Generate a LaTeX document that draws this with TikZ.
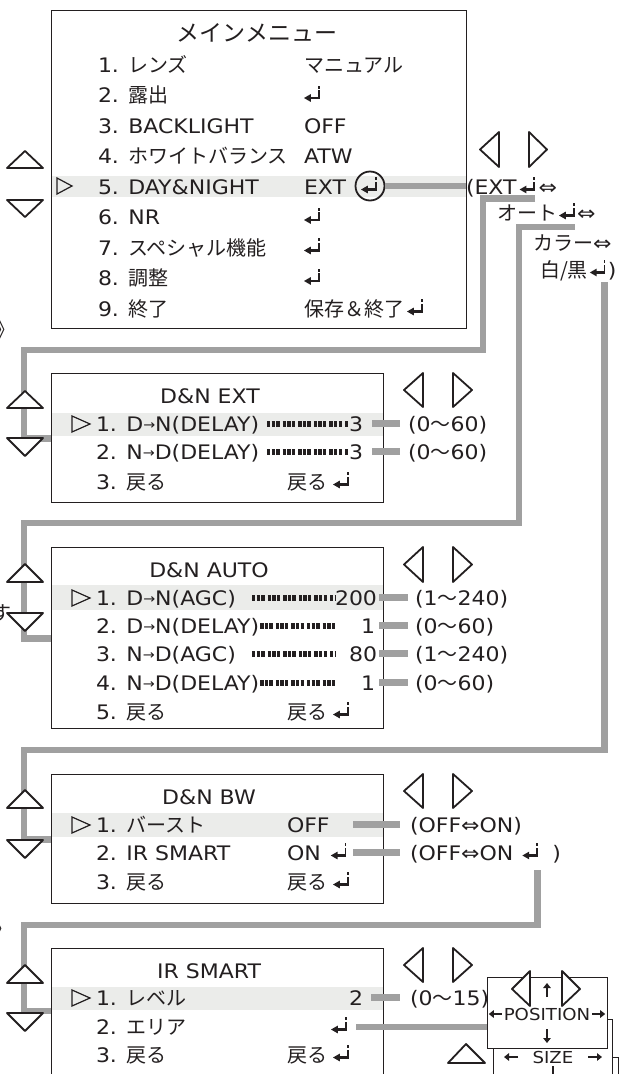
\documentclass[tikz,border=0pt]{standalone}
\usepackage{fontspec}
\setmainfont{DejaVu Sans}[FakeStretch=1.1]
\newfontfamily\jpf{Noto Sans CJK JP}
\usetikzlibrary{arrows.meta,calc}
\definecolor{ink}{HTML}{231F20}
\definecolor{lgray}{HTML}{A0A0A0}
\definecolor{hlc}{HTML}{EBECEA}
\newcommand\J[1]{{\jpf #1}}
\newcommand\fs{\fontsize{20}{22}\selectfont}
\newcommand\fsm{\fontsize{16.5}{18}\selectfont}
\newcommand\rarr{\raisebox{1.8pt}{\fontsize{13}{13}\selectfont →}}
\begin{document}
\begin{tikzpicture}[x=1pt,y=-1pt,
  txt/.style={anchor=base west, inner sep=0pt, outer sep=0pt, font=\fs, text=ink},
  txtr/.style={txt, anchor=base east},
  txtc/.style={txt, anchor=base},
  box/.style={draw=ink, line width=1.2pt, anchor=north west, inner sep=0pt},
  gl/.style={draw=lgray, line width=6.8pt, line join=miter},
  tri/.style={draw=ink, line width=1.8pt, fill=white, line join=round},
  ptr/.style={draw=ink, line width=1.2pt, line join=miter},
  bar/.style={draw=ink, line width=5.5pt, dash pattern=on 3.4pt off 1.2pt on 3.4pt off 1.2pt on 3.4pt off 3pt},
  tarr/.style={draw=ink, line width=2.6pt, -{Triangle[length=5pt,width=7.5pt]}},
  ret/.pic={
    \fill[ink] (0,0) -- (6.8,-3.9) -- (6.8,3.9) -- cycle;
    \fill[ink] (5.5,-1.15) rectangle (15.6,1.15);
    \fill[ink] (13.8,1.15) rectangle (15.6,-7.6);
    \fill[ink] (13.8,-9.4) rectangle (15.6,-12.2);
  }]
\useasboundingbox (0,0) rectangle (620,1074);
\fill[white] (0,0) rectangle (620,1074);

% highlight bands
\fill[hlc] (51,176) rectangle (466,197);
\fill[hlc] (51,413) rectangle (383,436);
\fill[hlc] (51,585) rectangle (383,610);
\fill[hlc] (51,813) rectangle (383,837);
\fill[hlc] (51,987) rectangle (383,1010);

% boxes
\node[box, minimum width=415, minimum height=318] (bmain) at (51,10) {};
\node[box, minimum width=332, minimum height=129] (bext) at (51,373) {};
\node[box, minimum width=332, minimum height=181] (bauto) at (51,547) {};
\node[box, minimum width=332, minimum height=129] (bbw) at (51,774) {};
\node[box, minimum width=332, minimum height=150] (bir) at (51,948) {};

% partial characters at left edge
\node[txt] (pc1) at (-5,337) {\J{》}};
\node[txtr] (pc2) at (11,620) {\J{す}};
\node[txt] (pc3) at (-7,936) {\J{》}};

% ---------- main menu ----------
\node[txtc, font=\fontsize{23}{25}\selectfont] (mtitle) at (257,41) {\J{メインメニュー}};
\node[txt] (m1) at (98,72) {1. \J{レンズ}};
\node[txt] (m2) at (98,102.5) {2. \J{露出}};
\node[txt] (m3) at (98,133) {3. BACKLIGHT};
\node[txt] (m4) at (98,163.5) {4. \J{ホワイトバランス}};
\node[txt] (m5) at (98,194) {5. DAY\&NIGHT};
\node[txt] (m6) at (98,224.5) {6. NR};
\node[txt] (m7) at (98,255) {7. \J{スペシャル機能}};
\node[txt] (m8) at (98,285.5) {8. \J{調整}};
\node[txt] (m9) at (98,316) {9. \J{終了}};
\node[txt] (v1) at (304,72) {\J{マニュアル}};
\pic at (304,98) {ret};
\node[txt] (v3) at (304,133) {OFF};
\node[txt] (v4) at (304,163.5) {ATW};
\node[txt] (v5) at (304,194) {EXT};
\node[circle, draw=ink, line width=1.8pt, minimum size=29pt, inner sep=0pt] (circ) at (370,186) {};
\pic at (361,189.5) {ret};
\pic at (304,220) {ret};
\pic at (304,250.5) {ret};
\pic at (304,281) {ret};
\node[txt] (v9) at (304,316) {\J{保存＆終了}};
\pic at ($(v9.base east)+(3,-4.5)$) {ret};
\draw[ptr] (57,178) -- (72,186) -- (57,194) -- cycle;

% cascade on the right
\node[txt] (c1) at (466,194) {(EXT};
\pic at ($(c1.base east)+(3,-4.5)$) {ret};
\node[txt] (c1b) at ($(c1.base east)+(22,0)$) {⇔};
\node[txt] (c2) at (497,220) {\J{オート}};
\pic at ($(c2.base east)+(2,-4.5)$) {ret};
\node[txt] (c2b) at ($(c2.base east)+(20,0)$) {⇔};
\node[txt] (c3) at (533,250) {\J{カラー}⇔};
\node[txt] (c4) at (540,277) {\J{白/黒}};
\pic at ($(c4.base east)+(2,-4.5)$) {ret};
\node[txt] (c4b) at ($(c4.base east)+(20,0)$) {)};
\coordinate (s1) at ($(c1.base east)+(18.6,4.5)$);
\coordinate (s2) at ($(c2.base east)+(17.6,7)$);
\coordinate (s3) at ($(c4.base east)+(16.7,5)$);

% ---------- D&N EXT ----------
\node[txtc] (et) at (210,403) {D\&N EXT};
\draw[ptr] (72,416) -- (90,424) -- (72,432) -- cycle;
\node[txt] (e1) at (96,431) {1. D\rarr N(DELAY)};
\node[txt] (e2) at (96,459) {2. N\rarr D(DELAY)};
\node[txt] (e3) at (96,489) {3. \J{戻る}};
\draw[bar] (267,424) -- (349,424);
\draw[bar] (267,452) -- (349,452);
\node[txtr] (e1v) at (363,431) {3};
\node[txtr] (e2v) at (363,459) {3};
\node[txt] (e3v) at (287,489) {\J{戻る}};
\pic at ($(e3v.base east)+(6,-4.5)$) {ret};
\node[txt] (e1r) at (408,431) {(0\J{～}60)};
\node[txt] (e2r) at (408,459) {(0\J{～}60)};

% ---------- D&N AUTO ----------
\node[txtc] (aut) at (209,577) {D\&N AUTO};
\draw[ptr] (72,590) -- (90,598) -- (72,606) -- cycle;
\node[txt] (a1) at (96,605) {1. D\rarr N(AGC)};
\node[txt] (a2) at (96,633) {2. D\rarr N(DELAY)};
\node[txt] (a3) at (96,661) {3. N\rarr D(AGC)};
\node[txt] (a4) at (96,690) {4. N\rarr D(DELAY)};
\node[txt] (a5) at (96,719) {5. \J{戻る}};
\draw[bar] (252,598) -- (335,598);
\draw[bar] ([xshift=1pt]a2.east |- 0,626) -- (335,626);
\draw[bar] (252,654) -- (335,654);
\draw[bar] ([xshift=1pt]a4.east |- 0,683) -- (335,683);
\node[txtr] (a1v) at (377,605) {200};
\node[txtr] (a2v) at (375,633) {1};
\node[txtr] (a3v) at (377,661) {80};
\node[txtr] (a4v) at (375,690) {1};
\node[txt] (a5v) at (287,719) {\J{戻る}};
\pic at ($(a5v.base east)+(6,-4.5)$) {ret};
\node[txt] (a1r) at (415,605) {(1\J{～}240)};
\node[txt] (a2r) at (415,633) {(0\J{～}60)};
\node[txt] (a3r) at (415,661) {(1\J{～}240)};
\node[txt] (a4r) at (415,690) {(0\J{～}60)};

% ---------- D&N BW ----------
\node[txtc] (bwt) at (209,804) {D\&N BW};
\draw[ptr] (72,817) -- (90,825) -- (72,833) -- cycle;
\node[txt] (b1) at (96,832) {1. \J{バースト}};
\node[txt] (b2) at (96,860) {2. IR SMART};
\node[txt] (b3) at (96,889) {3. \J{戻る}};
\node[txt] (b1v) at (287,832) {OFF};
\node[txt] (b2v) at (287,860) {ON};
\pic at ($(b2v.base east)+(10,-4.5)$) {ret};
\node[txt] (b3v) at (287,889) {\J{戻る}};
\pic at ($(b3v.base east)+(6,-4.5)$) {ret};
\node[txt] (b1r) at (410,832) {(OFF⇔ON)};
\node[txt] (b2r) at (410,860) {(OFF⇔ON};
\pic at ($(b2r.base east)+(9,-4.5)$) {ret};
\node[txt] (b2rc) at ($(b2r.base east)+(39,0)$) {)};
\coordinate (s4) at ($(b2r.base east)+(23.7,10)$);

% ---------- IR SMART ----------
\node[txtc] (irt) at (209,978) {IR SMART};
\draw[ptr] (72,990) -- (90,998) -- (72,1006) -- cycle;
\node[txt] (i1) at (96,1005) {1. \J{レベル}};
\node[txt] (i2) at (96,1034) {2. \J{エリア}};
\node[txt] (i3) at (96,1062) {3. \J{戻る}};
\node[txtr] (i1v) at (363,1005) {2};
\pic at (331,1029.5) {ret};
\coordinate (i2c) at (356,1027);
\node[txt] (i3v) at (287,1062) {\J{戻る}};
\pic at ($(i3v.base east)+(6,-4.5)$) {ret};
\node[txt] (i1r) at (410,1005) {(0\J{～}15)};

% ---------- POSITION / SIZE stack ----------
\draw[draw=ink, line width=1pt, fill=white] (500,1057) rectangle (618,1100);
\node[draw=ink, line width=1.2pt, fill=white, minimum width=119, minimum height=90, anchor=north west, inner sep=0pt] (size) at (493,1019) {};
\node[draw=ink, line width=1.2pt, fill=white, minimum width=120, minimum height=71, anchor=north west, inner sep=0pt] (pos) at (487,977) {};
\draw[tri] (530,971) -- (512,989) -- (530,1006) -- cycle;
\draw[tri] (562,971) -- (580,989) -- (562,1006) -- cycle;
\draw[tarr] (547,997) -- (547,983);
\node[txtc, font=\fsm] (ptxt) at (547,1020) {POSITION};
\draw[tarr] ($(ptxt.base west)+(-2,-6)$) -- ++(-13,0);
\draw[tarr] ($(ptxt.base east)+(2,-6)$) -- ++(13,0);
\draw[tarr] (547,1029) -- (547,1043);
\node[txtc, font=\fsm] (stxt) at (553,1063) {SIZE};
\draw[tarr] (518,1057) -- (504,1057);
\draw[tarr] (588,1057) -- (602,1057);
\draw[tarr] (553,1066) -- (553,1080);

% ---------- gray connectors ----------
\draw[gl] (circ.east) -- (circ.east -| c1.west);
\draw[gl] (s1) -| (483,350) -- (24,350) |- (bext.west);
\draw[gl] (s2) -| (519,523) -- (24,523) |- (bauto.west);
\draw[gl] (s3) |- (24,750) |- (bbw.west);
\draw[gl] (s4) |- (24,925) |- ($(bir.north west)+(0,63)$);
\coordinate (ex) at (372,0);
\coordinate (ax) at (379,0);
\coordinate (bx) at (353,0);
\draw[gl, shorten >=8pt] (e1v.east -| ex) -- (e1v.east -| e1r.west);
\draw[gl, shorten >=8pt] (e2v.east -| ex) -- (e2v.east -| e2r.west);
\draw[gl, shorten >=7pt] (a1v.east -| ax) -- (a1v.east -| a1r.west);
\draw[gl, shorten >=7pt] (a2v.east -| ax) -- (a2v.east -| a2r.west);
\draw[gl, shorten >=7pt] (a3v.east -| ax) -- (a3v.east -| a3r.west);
\draw[gl, shorten >=7pt] (a4v.east -| ax) -- (a4v.east -| a4r.west);
\draw[gl, shorten >=10pt] (b1v.east -| bx) -- (b1v.east -| b1r.west);
\draw[gl, shorten >=10pt] (b2v.east -| bx) -- (b2v.east -| b2r.west);
\draw[gl, shorten <=8pt, shorten >=10pt] (i1v.east) -- (i1v.east -| i1r.west);
\draw[gl] (i2c) -- (i2c -| pos.west);

% ---------- up/down triangles ----------
\draw[tri] (7,168) -- (25,151) -- (43,168) -- cycle;
\draw[tri] (7,200) -- (43,200) -- (25,217) -- cycle;
\draw[tri] (7,408) -- (25,391) -- (43,408) -- cycle;
\draw[tri] (7,438) -- (43,438) -- (25,456) -- cycle;
\draw[tri] (7,582) -- (25,564) -- (43,582) -- cycle;
\draw[tri] (7,613) -- (43,613) -- (25,631) -- cycle;
\draw[tri] (7,808) -- (25,790) -- (43,808) -- cycle;
\draw[tri] (7,840) -- (43,840) -- (25,858) -- cycle;
\draw[tri] (7,983) -- (25,965) -- (43,983) -- cycle;
\draw[tri] (7,1013) -- (43,1013) -- (25,1031) -- cycle;
\draw[tri] (448,1063) -- (466,1044) -- (485,1063) -- cycle;

% ---------- left/right triangles ----------
\draw[tri] (499,132) -- (480,149.5) -- (499,167) -- cycle;
\draw[tri] (529,132) -- (547,149.5) -- (529,167) -- cycle;
\draw[tri] (423,373) -- (404,390) -- (423,407) -- cycle;
\draw[tri] (453,373) -- (472,390) -- (453,407) -- cycle;
\draw[tri] (423,547) -- (404,564.5) -- (423,582) -- cycle;
\draw[tri] (453,547) -- (472,564.5) -- (453,582) -- cycle;
\draw[tri] (423,774) -- (404,791) -- (423,808) -- cycle;
\draw[tri] (453,774) -- (472,791) -- (453,808) -- cycle;
\draw[tri] (423,948) -- (404,965) -- (423,982) -- cycle;
\draw[tri] (453,948) -- (472,965) -- (453,982) -- cycle;
\end{tikzpicture}
\end{document}
